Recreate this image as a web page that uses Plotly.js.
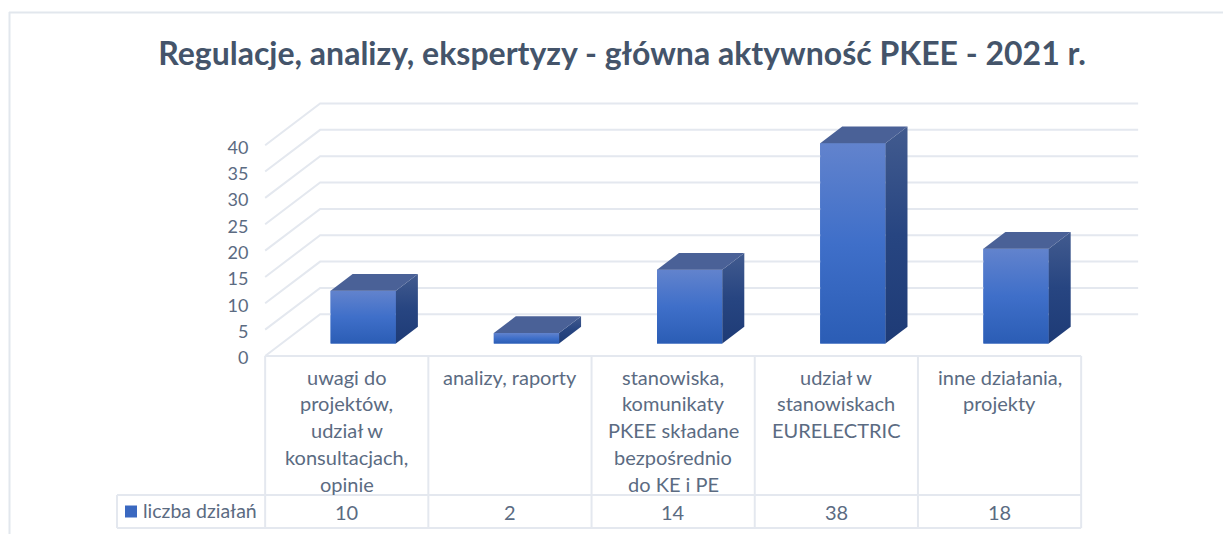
<!DOCTYPE html>
<html><head><meta charset="utf-8">
<script src="https://cdn.plot.ly/plotly-3.0.1.min.js"></script>
<style>html,body{margin:0;padding:0;background:#fff}#c{width:1223px;height:534px}</style>
</head><body><div id="c"></div>
<script>
const titleText = 'Regulacje, analizy, ekspertyzy - główna aktywność PKEE - 2021 r.';
const seriesName = 'liczba działań';
const categoryLines = [
  ['uwagi do','projektów,','udział w','konsultacjach,','opinie'],
  ['analizy, raporty'],
  ['stanowiska,','komunikaty','PKEE składane','bezpośrednio','do KE i PE'],
  ['udział w','stanowiskach','EURELECTRIC'],
  ['inne działania,','projekty']
];
const values = [10, 2, 14, 38, 18];
const yTicks = [0, 5, 10, 15, 20, 25, 30, 35, 40];

// pixel calibration of the two axes (one category = 163.2 px, one unit = 5.27 px)
const W = 1223, H = 534, catPx = 163.2, unitPx = 5.27, x0Px = 346.75, y0Px = 356;
const xRange = [-x0Px / catPx, (W - x0Px) / catPx];
const yRange = [(y0Px - H) / unitPx, y0Px / unitPx];
const X = p => (p - x0Px) / catPx, Y = p => (y0Px - p) / unitPx;

// oblique depth projection: d=0 front plane, d=1 back wall
const depthX = 55 / catPx, depthY = 41.7 / unitPx;
const barD0 = 0.3, barD1 = 0.7, barHalf = 0.2;
const px = (c, d) => c + d * depthX, py = (v, d) => v + d * depthY;

const GRID = '#e4e8ef', TXT = '#5b6b82', FONT = 'Lato, Carlito, sans-serif';
const traces = [];

// grid: diagonals on the side wall + back wall lines
const gx = [], gy = [], wallEnd = 4.5 + 2 / catPx;
yTicks.forEach(t => {
  gx.push(px(-0.5, 0), px(-0.5, 1), px(wallEnd, 1), null);
  gy.push(py(t, 0), py(t, 1), py(t, 1), null);
});
traces.push({type:'scatter', mode:'lines', x:gx, y:gy, line:{color:GRID, width:2}, hoverinfo:'skip', showlegend:false});

// table rules
const rowTop = 0, rowMid = Y(495), rowBot = Y(528), legL = X(117);
const tx = [], ty = [];
const seg = (a, b, c, d) => { tx.push(a, c, null); ty.push(b, d, null); };
seg(-0.5, rowTop, 4.5, rowTop);
seg(legL, rowMid, 4.5, rowMid);
seg(legL, rowBot, 4.5, rowBot);
seg(legL, rowMid, legL, rowBot);
for (let i = 0; i <= values.length; i++) seg(i - 0.5, rowTop, i - 0.5, rowBot);
traces.push({type:'scatter', mode:'lines', x:tx, y:ty, line:{color:GRID, width:2}, hoverinfo:'skip', showlegend:false});

// bars: front face as bar trace, then shaded faces
const cats = values.map((_, i) => i);
traces.push({type:'bar', x:cats.map(c => px(c, barD0)), y:values, base:py(0, barD0), width:barHalf * 2,
  marker:{color:'#3f6ec8', line:{width:0}}, name:seriesName, showlegend:false, hoverinfo:'y'});
values.forEach((v, i) => {
  const L = i - barHalf, R = i + barHalf;
  const poly = pts => ({x:pts.map(p => px(p[0], p[1])).concat(px(pts[0][0], pts[0][1])),
                        y:pts.map(p => py(p[2], p[1])).concat(py(pts[0][2], pts[0][1]))});
  const base = {type:'scatter', mode:'lines', line:{width:0}, hoverinfo:'skip', showlegend:false, fill:'toself'};
  traces.push(Object.assign({}, base, poly([[L,barD0,0],[R,barD0,0],[R,barD0,v],[L,barD0,v]]),
    {fillgradient:{type:'vertical', colorscale:[[0,'#2b5db5'],[0.5,'#3f6fc9'],[1,'#6283cd']]}}));
  traces.push(Object.assign({}, base, poly([[R,barD0,0],[R,barD1,0],[R,barD1,v],[R,barD0,v]]),
    {fillgradient:{type:'vertical', colorscale:[[0,'#1e3b76'],[0.5,'#274581'],[1,'#425b8f']]}}));
  traces.push(Object.assign({}, base, poly([[L,barD0,v],[R,barD0,v],[R,barD1,v],[L,barD1,v]]), {fillcolor:'#4a6197'}));
});

// legend key in table
traces.push({type:'scatter', mode:'markers', x:[X(131)], y:[Y(511.5)], hoverinfo:'skip', showlegend:false,
  marker:{symbol:'square', size:12, color:'#3a68c0', line:{width:0}}});

// cell text
const annotations = [];
const lineStep = 26.8 / unitPx, firstLine = Y(376.5), fs = 20;
categoryLines.forEach((lines, i) => lines.forEach((t, k) => annotations.push({
  x:i, y:firstLine - k * lineStep, xref:'x', yref:'y', text:t, showarrow:false, xanchor:'center', yanchor:'middle',
  font:{family:FONT, size:fs, color:TXT}})));
values.forEach((v, i) => annotations.push({x:i, y:Y(511.5), xref:'x', yref:'y', text:String(v), showarrow:false,
  font:{family:FONT, size:fs, color:TXT}}));
annotations.push({x:X(141), y:Y(510.5), xref:'x', yref:'y', text:seriesName, showarrow:false, xanchor:'left',
  font:{family:FONT, size:19.5, color:TXT}});

const layout = {
  width:W, height:H, margin:{l:0, r:0, t:0, b:0}, paper_bgcolor:'#fff', plot_bgcolor:'rgba(0,0,0,0)',
  showlegend:false, barmode:'overlay',
  title:{text:titleText, x:622/W, xanchor:'center', y:1-54/H, yanchor:'middle',
         font:{family:FONT, size:32, color:'#44546a', weight:700}},
  xaxis:{range:xRange, domain:[0,1], showgrid:false, zeroline:false, showline:false, showticklabels:false, ticks:''},
  yaxis:{range:yRange, domain:[0,1], showgrid:false, zeroline:false, showline:false, ticks:'',
         anchor:'free', position:248.5/W, tickvals:yTicks, ticktext:yTicks.map(String), ticklabelshift:2,
         tickfont:{family:FONT, size:18, color:TXT}},
  shapes:[
    {type:'line', xref:'paper', yref:'paper', x0:9/W, x1:1, y0:1-12.5/H, y1:1-12.5/H, line:{color:'#e2e7ed', width:2}},
    {type:'line', xref:'paper', yref:'paper', x0:9.5/W, x1:9.5/W, y0:0, y1:1-12/H, line:{color:'#e2e7ed', width:2}}
  ],
  annotations
};
Plotly.newPlot('c', traces, layout, {displayModeBar:false, staticPlot:true});
</script></body></html>
